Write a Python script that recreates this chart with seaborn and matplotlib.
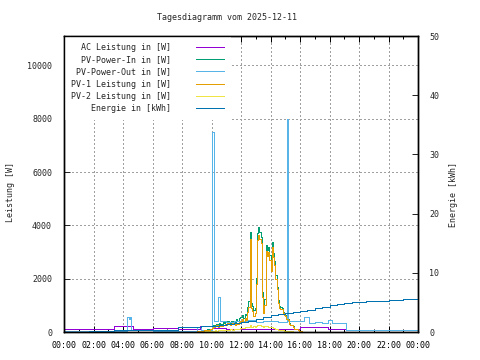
import numpy as np
import pandas as pd
import matplotlib
matplotlib.use("Agg")
import matplotlib.pyplot as plt
from matplotlib.ticker import MultipleLocator
import seaborn as sns

# Tagesdiagramm 2025-12-11, Zeit in Stunden

# AC Leistung [W] (Stufen)
ac_t = [0.0, 3.4, 4.7, 6.0, 7.7, 9.2, 10.0, 11.0, 12.0, 13.0, 14.5, 16.0, 17.9, 19.1, 24.0]
ac_w = [125, 210, 100, 150, 110, 210, 150, 130, 110, 130, 120, 175, 110, 60, 60]

# PV-Power-Out [W] (Stufen)
out_t = [0.0, 4.3, 4.38, 4.45, 4.55, 6.0, 9.0, 9.3, 10.05, 10.15, 10.45, 10.55, 11.0, 11.5,
         12.0, 12.5, 13.0, 13.5, 14.0, 14.5, 15.12, 15.2, 16.3, 16.6, 17.0, 17.5, 17.9,
         18.2, 18.6, 19.1, 24.0]
out_w = [30, 560, 480, 560, 90, 40, 200, 90, 7500, 420, 1300, 400, 380, 430,
         400, 450, 380, 420, 400, 380, 8000, 400, 575, 330, 360, 330, 450,
         350, 330, 75, 75]

# PV Werte alle 5 Minuten, 09:00 - 16:25
pv_t = np.arange(9.0, 16.45, 1 / 12)

pv1_w = [20, 25, 30, 40, 50, 50, 60, 70, 75, 80, 90, 100,
         150, 200, 180, 220, 250, 200, 260, 240, 220, 280, 250, 300,
         280, 320, 300, 260, 300, 340, 320, 280, 350, 300, 380, 420,
         400, 480, 380, 520, 450, 750, 950, 3480, 900, 780, 600, 700,
         1800, 3450, 3650, 3500, 3320, 1300, 700, 1000, 3050, 2850, 3000, 2700,
         2300, 3200, 2800, 2500, 2000, 1600, 1100, 900, 880, 850, 700, 650,
         600, 500, 450, 300, 250, 250, 200, 120, 100, 100, 80, 50,
         30, 20, 10, 0, 0, 0]

pv2_w = [5, 5, 10, 10, 10, 15, 15, 20, 20, 20, 25, 25,
         40, 50, 45, 60, 55, 60, 70, 65, 70, 80, 75, 80,
         80, 90, 85, 95, 100, 90, 110, 100, 120, 110, 130, 140,
         150, 140, 160, 170, 180, 190, 200, 260, 200, 190, 210, 200,
         220, 270, 270, 260, 230, 210, 200, 220, 230, 210, 200, 190,
         170, 180, 160, 150, 120, 100, 90, 80, 70, 60, 60, 50,
         45, 40, 35, 30, 25, 20, 15, 10, 10, 5, 5, 0,
         0, 0, 0, 0, 0, 0]

pv_in_w = [25, 30, 40, 50, 60, 65, 75, 90, 95, 100, 115, 125,
           190, 250, 225, 280, 305, 260, 330, 305, 290, 360, 325, 380,
           360, 410, 385, 355, 400, 430, 430, 380, 470, 410, 510, 560,
           550, 620, 540, 690, 630, 940, 1150, 3740, 1100, 970, 810, 900,
           2020, 3720, 3920, 3760, 3550, 1510, 900, 1220, 3280, 3060, 3200, 2890,
           2470, 3380, 2960, 2650, 2120, 1700, 1190, 980, 950, 910, 760, 700,
           645, 540, 485, 330, 275, 270, 215, 130, 110, 105, 85, 50,
           30, 20, 10, 0, 0, 0]

# Energie [kWh] (Stufen)
en_t = [0.0, 1.7, 3.4, 7.7, 9.3, 10.0, 10.5, 11.0, 11.5, 12.0, 12.5, 13.0, 13.5, 14.0,
        14.5, 15.0, 15.5, 16.0, 16.5, 17.0, 17.5, 18.0, 18.5, 19.0, 19.5, 20.0, 20.5,
        21.0, 22.0, 23.0, 24.0]
en_kwh = [0.05, 0.2, 0.35, 0.85, 0.95, 1.0, 1.1, 1.3, 1.5, 1.7, 1.9, 2.2, 2.5, 2.8,
          3.05, 3.25, 3.4, 3.6, 3.8, 4.05, 4.3, 4.55, 4.75, 4.9, 5.0, 5.1, 5.2,
          5.3, 5.45, 5.55, 5.6]

hour_ticks = list(range(0, 25, 2))
hour_labels = ["%02d:00" % (h % 24) for h in hour_ticks]

sns.set_style("ticks")
plt.rcParams['font.family'] = ['DejaVu Sans Mono']
plt.rcParams['font.size'] = 6
plt.rcParams['lines.antialiased'] = False

fig = plt.figure(figsize=(4.8, 3.6), dpi=100)
ax = fig.add_axes([64 / 480, 1 - 332 / 360, 354 / 480, 296 / 360])
ax2 = ax.twinx()

lw = 0.72
step = dict(drawstyle='steps-post', errorbar=None, linewidth=lw)
sns.lineplot(x=ac_t, y=ac_w, ax=ax, color='#9400d3', label='AC Leistung in [W]', **step)
sns.lineplot(x=pv_t, y=pv_in_w, ax=ax, color='#009e73', label='PV-Power-In in [W]', **step)
sns.lineplot(x=out_t, y=out_w, ax=ax, color='#56b4e9', label='PV-Power-Out in [W]', **step)
sns.lineplot(x=pv_t, y=pv1_w, ax=ax, color='#e69f00', label='PV-1 Leistung in [W]', **step)
sns.lineplot(x=pv_t, y=pv2_w, ax=ax, color='#f0e442', label='PV-2 Leistung in [W]', **step)
sns.lineplot(x=en_t, y=en_kwh, ax=ax2, color='#0072b2', label='Energie in [kWh]', **step)

handles = ax.get_lines() + ax2.get_lines()
labels = [h.get_label() for h in handles]
if ax.get_legend():
    ax.get_legend().remove()
if ax2.get_legend():
    ax2.get_legend().remove()

ax.set_xlim(0, 24)
ax.set_ylim(0, 11100)
ax2.set_ylim(0, 50)

ax.set_xticks(hour_ticks)
ax.set_xticklabels(hour_labels)
ax.xaxis.set_minor_locator(MultipleLocator(1))
ax.set_yticks(range(0, 10001, 2000))
ax2.set_yticks(range(0, 51, 10))

ax.tick_params(axis='x', which='both', direction='in', top=True, pad=6.5, colors='black')
ax.tick_params(axis='x', which='major', length=4, width=0.72)
ax.tick_params(axis='x', which='minor', length=2, width=0.72)
ax.tick_params(axis='y', direction='in', left=True, right=False, length=4, width=0.72, pad=8.6)
ax2.tick_params(axis='y', direction='in', right=True, length=4, width=0.72, pad=8)

for a in (ax, ax2):
    for s in a.spines.values():
        s.set_visible(True)
        s.set_linewidth(1.0)
        s.set_color('black')
        s.set_zorder(6)

ax.grid(True, which='major', color='#a0a0a0', linestyle=(0, (2, 2.5)), linewidth=0.72)
ax.set_axisbelow(True)

ax.set_xlabel('')
ax.set_ylabel('Leistung [W]', va='center')
ax.yaxis.set_label_coords(-0.150, 0.474)
ax2.set_ylabel('Energie [kWh]', va='center')
ax2.yaxis.set_label_coords(1.099, 0.463)

# Legende wie bei gnuplot: Text rechtsbuendig, Linie rechts daneben
leg = ax2.legend(handles, labels, loc='upper left', bbox_to_anchor=(0, 1),
                 borderaxespad=0, borderpad=0.8, markerfirst=False,
                 frameon=True, fancybox=False, facecolor='white',
                 framealpha=1, handlelength=3.4, handletextpad=3.0, labelspacing=0.4,
                 fontsize=6)
leg.get_frame().set_linewidth(0)
leg.set_zorder(5)

fig.text(226.7 / 480, 1 - 17.3 / 360, 'Tagesdiagramm vom 2025-12-11',
         ha='center', va='center', fontsize=6)

fig.savefig('out.png', dpi=100, facecolor='white')
